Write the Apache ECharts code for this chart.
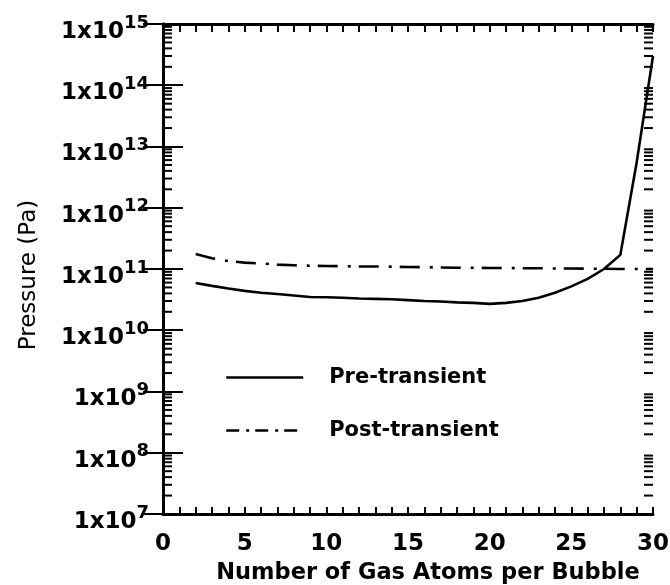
<!DOCTYPE html>
<html><head><meta charset="utf-8">
<script src="https://cdn.jsdelivr.net/npm/echarts@6/dist/echarts.min.js"></script>
<style>html,body{margin:0;padding:0;background:#fff}#c{width:670px;height:585px}</style>
</head><body><div id="c"></div>
<script>
const atoms = [2,3,4,5,6,7,8,9,10,11,12,13,14,15,16,17,18,19,20,21,22,23,24,25,26,27,28,29,30];
const preTransient = [5.9e10,5.3e10,4.8e10,4.4e10,4.1e10,3.9e10,3.7e10,3.5e10,3.45e10,3.4e10,3.3e10,3.25e10,3.2e10,3.1e10,3.0e10,2.95e10,2.85e10,2.8e10,2.7e10,2.8e10,3.0e10,3.4e10,4.1e10,5.2e10,6.9e10,1.0e11,1.7e11,5.5e12,3.0e14];
const postTransient = [1.75e11,1.5e11,1.35e11,1.27e11,1.23e11,1.18e11,1.15e11,1.13e11,1.12e11,1.11e11,1.1e11,1.1e11,1.09e11,1.08e11,1.07e11,1.06e11,1.05e11,1.05e11,1.04e11,1.04e11,1.03e11,1.03e11,1.02e11,1.02e11,1.01e11,1.01e11,1.0e11,1.0e11,1.0e11];
const seriesNames = ['Pre-transient','Post-transient'];
const xLabels = ['0','5','10','15','20','25','30'];
const yExponents = [7,8,9,10,11,12,13,14,15];

const FONT = 'DejaVu Sans';
const minorVals = [];
for (let i = 0; i < yExponents.length - 1; i++) {
  for (let k = 2; k <= 9; k++) minorVals.push([0, k * Math.pow(10, yExponents[i])]);
}

const chart = echarts.init(document.getElementById('c'), null, {renderer:'canvas'});
const axisLine = {show:true, lineStyle:{color:'#000', width:3}};
const option = {
  backgroundColor:'#fff',
  animation:false,
  grid:{left:163, right:17, top:24, bottom:71, show:false, containLabel:false, outerBoundsMode:'none'},
  legend:{
    orient:'vertical', left:225, top:367, padding:0, itemGap:32, itemWidth:77, itemHeight:24,
    itemStyle:{color:'rgba(0,0,0,0)', borderWidth:0, opacity:0},
    textStyle:{fontFamily:FONT, fontWeight:'bold', fontSize:21, color:'#000', padding:[0,0,0,21]},
    data:[
      {name:seriesNames[0], lineStyle:{width:2.4}},
      {name:seriesNames[1], lineStyle:{width:2.4, type:[13,7,3,6]}}
    ]
  },
  xAxis:[
    {type:'value', min:0, max:30, interval:5, position:'bottom',
     axisLine:axisLine, splitLine:{show:false},
     axisTick:{show:true, inside:true, length:7, lineStyle:{color:'#000', width:2}},
     minorTick:{show:true, splitNumber:5, length:7, lineStyle:{color:'#000', width:2}},
     axisLabel:{fontFamily:FONT, fontWeight:'bold', fontSize:23, color:'#000', margin:19,
       formatter:function(v){ return xLabels[Math.round(v/5)]; }},
     name:'Number of Gas Atoms per Bubble', nameLocation:'middle', nameGap:48,
     nameTextStyle:{fontFamily:FONT, fontWeight:'bold', fontSize:22.5, color:'#000', padding:[0,0,0,40]}},
    {type:'value', min:0, max:30, interval:5, position:'top',
     axisLine:axisLine, splitLine:{show:false}, axisLabel:{show:false},
     axisTick:{show:true, inside:true, length:8, lineStyle:{color:'#000', width:2}},
     minorTick:{show:true, splitNumber:5, length:8, lineStyle:{color:'#000', width:2}}}
  ],
  yAxis:[
    {type:'log', logBase:10, min:1e7, max:1e15, splitNumber:8, position:'left',
     axisLine:axisLine, splitLine:{show:false},
     axisTick:{show:true, inside:true, length:20, lineStyle:{color:'#000', width:2}},
     axisLabel:{margin:14, color:'#000', padding:[16,0,0,0],
       formatter:function(v){ return '{b|1x10}{s|' + Math.round(Math.log10(v)) + '}'; },
       rich:{
         b:{fontFamily:FONT, fontWeight:'bold', fontSize:23, color:'#000', lineHeight:36},
         s:{fontFamily:FONT, fontWeight:'bold', fontSize:18, color:'#000', verticalAlign:'top', lineHeight:15}
       }},
     name:'Pressure (Pa)', nameLocation:'middle', nameGap:122, nameRotate:90,
     nameTextStyle:{fontFamily:FONT, fontSize:23, color:'#000', padding:[0,12,0,0]}},
    {type:'log', logBase:10, min:1e7, max:1e15, splitNumber:8, position:'right',
     axisLine:axisLine, splitLine:{show:false}, axisLabel:{show:false},
     axisTick:{show:true, inside:true, length:20, lineStyle:{color:'#000', width:2}}}
  ],
  series:[
    {name:seriesNames[0], type:'line', xAxisIndex:0, yAxisIndex:0, showSymbol:false, symbol:'none',
     data:atoms.map((a,i)=>[a, preTransient[i]]),
     lineStyle:{color:'#000', width:2.6}, itemStyle:{color:'#000'}},
    {name:seriesNames[1], type:'line', xAxisIndex:0, yAxisIndex:0, showSymbol:false, symbol:'none',
     data:atoms.map((a,i)=>[a, postTransient[i]]),
     lineStyle:{color:'#000', width:2.6, type:[20,10,3,8]}, itemStyle:{color:'#000'}},
    {name:'minorTicks', type:'custom', xAxisIndex:0, yAxisIndex:0, silent:true, clip:false,
     data:minorVals,
     renderItem:function(params, api){
       const v = api.value(1);
       const pL = api.coord([0, v]);
       const pR = api.coord([30, v]);
       return {type:'group', children:[
         {type:'line', shape:{x1:pL[0], y1:pL[1], x2:pL[0]+9, y2:pL[1]}, style:{stroke:'#000', lineWidth:2}},
         {type:'line', shape:{x1:pR[0]-9, y1:pR[1], x2:pR[0], y2:pR[1]}, style:{stroke:'#000', lineWidth:2}}
       ]};
     }}
  ]
};
chart.setOption(option);
</script>
</body></html>
